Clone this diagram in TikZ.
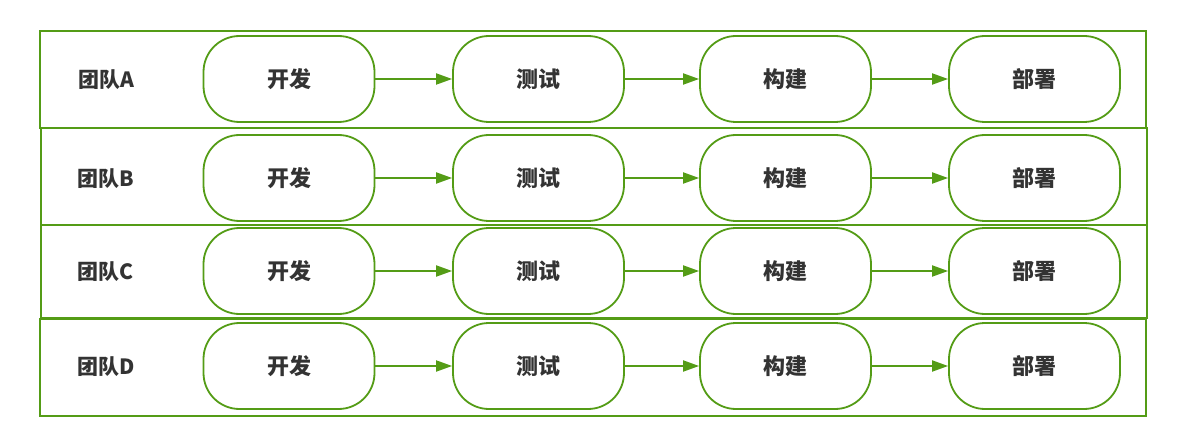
\documentclass[tikz,border=0pt]{standalone}
\usepackage{fontspec}
\newfontfamily\cjk{Noto Sans CJK SC}
\usetikzlibrary{arrows.meta}
\definecolor{grn}{RGB}{84,156,22}
\definecolor{txt}{RGB}{51,51,51}
\begin{document}
\begin{tikzpicture}[x=1pt,y=-1pt,
  lane/.style={draw=grn,line width=2pt,minimum width=1106pt,inner sep=0pt},
  stage/.style={draw=grn,line width=1.8pt,rounded corners=36pt,minimum width=171pt,minimum height=86pt,font=\cjk\bfseries\fontsize{22}{26}\selectfont,text=txt,fill=white},
  team/.style={font=\cjk\bfseries\fontsize{21}{25}\selectfont,text=txt},
  flow/.style={draw=grn,line width=1.8pt,-{Triangle[length=16pt,width=11pt]}}]
\useasboundingbox (0,0) rectangle (1179,433);
\fill[white] (0,0) rectangle (1179,433);
\node[lane,minimum height=97pt] (LA) at (593,79.5) {};
\node[lane,minimum height=97pt] (LB) at (594,176.5) {};
\node[lane,minimum height=93pt] (LC) at (594,271.5) {};
\node[lane,minimum height=97pt] (LD) at (593,367) {};
\foreach \r/\y/\l in {A/79/团队A,B/178/团队B,C/271/团队C,D/366/团队D}{
  \node[team] (T\r) at (106,\y+1) {\l};
  \node[stage] (S\r1) at (289,\y) {开发};
  \node[stage] (S\r2) at (538.5,\y) {测试};
  \node[stage] (S\r3) at (785.5,\y) {构建};
  \node[stage] (S\r4) at (1034.5,\y) {部署};
  \draw[flow] (S\r1) -- (S\r2);
  \draw[flow] (S\r2) -- (S\r3);
  \draw[flow] (S\r3) -- (S\r4);
}
\end{tikzpicture}
\end{document}
